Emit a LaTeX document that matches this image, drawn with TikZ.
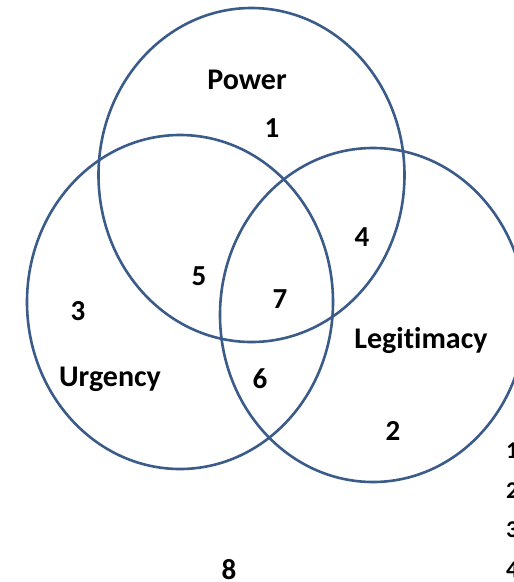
\documentclass[tikz,border=0pt]{standalone}
\usepackage{fontspec}
\setmainfont{Carlito}[Ligatures=NoCommon]
\usepackage{xcolor}
\usetikzlibrary{shapes.geometric}
\definecolor{setblue}{HTML}{3B5C89}
\tikzset{
    setnode/.style = {ellipse, draw=setblue, line width=2.6pt, inner sep=0pt, minimum width=306pt, minimum height=334pt},
    lbl/.style = {anchor=base, inner sep=0pt, font=\fontsize{30}{36}\selectfont\bfseries},
    num/.style = {lbl, font=\fontsize{29}{34}\selectfont\bfseries},
    keynum/.style = {lbl, anchor=base west, font=\fontsize{24}{28}\selectfont\bfseries}
}

\begin{document}
\begin{tikzpicture}[x=1pt, y=-1pt]
    \useasboundingbox (0,0) rectangle (514,582);

    \node [setnode] (power) at (251.5,175) {};
    \node [setnode] (urgency) at (180,302) {};
    \node [setnode] (legit) at (373,315) {};

    \node [lbl] (powerlbl) at (247,89) {Power};
    \node [lbl] (urgencylbl) at (110,386) {Urgency};
    \node [lbl] (legitlbl) at (421,348) {Legitimacy};

    \node [num] (n1) at (272,137) {1};
    \node [num] (n2) at (393,440) {2};
    \node [num] (n3) at (78,320) {3};
    \node [num] (n4) at (362,246) {4};
    \node [num] (n5) at (199,285) {5};
    \node [num] (n6) at (260,388) {6};
    \node [num] (n7) at (280,308) {7};
    \node [num] (n8) at (229,579) {8};

    \node [keynum] (k1) at (506,458) {1};
    \node [keynum] (k2) at (506,498) {2};
    \node [keynum] (k3) at (506,537) {3};
    \node [keynum] (k4) at (506,577) {4};
\end{tikzpicture}
\end{document}
